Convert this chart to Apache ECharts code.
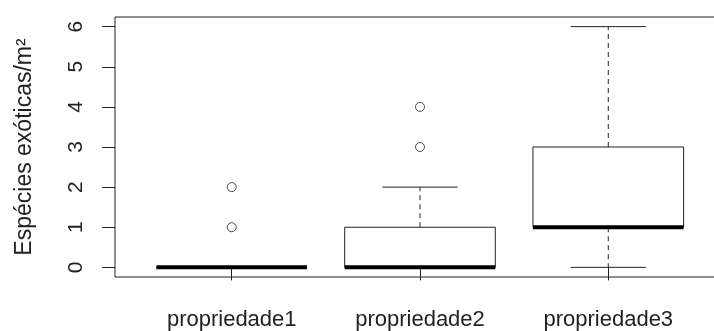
<!DOCTYPE html>
<html>
<head>
<meta charset="utf-8">
<script src="https://cdn.jsdelivr.net/npm/echarts@6/dist/echarts.min.js"></script>
<style>html,body{margin:0;padding:0;background:#fff;overflow:hidden}#c{width:714px;height:331px}</style>
</head>
<body>
<div id="c"></div>
<script>
const categories = ['propriedade1', 'propriedade2', 'propriedade3'];
const boxMin = [0, 0, 0];
const boxQ1 = [0, 0, 1];
const boxMedian = [0, 0, 1];
const boxQ3 = [0, 1, 3];
const boxMax = [0, 2, 6];
const outlierCategory = [1, 1, 2, 2];
const outlierValue = [1, 2, 3, 4];
const yTicks = [0, 1, 2, 3, 4, 5, 6];
const xTicks = [1, 2, 3];

const boxData = categories.map((c, i) => [i + 1, boxMin[i], boxQ1[i], boxMedian[i], boxQ3[i], boxMax[i]]);
const outlierData = outlierCategory.map((c, i) => [c, outlierValue[i]]);

const FONT = '"Liberation Sans", Arial, sans-serif';
const INK = '#222222';

const chart = echarts.init(document.getElementById('c'), null, {renderer: 'canvas'});

function renderBox(params, api) {
  const x = api.value(0);
  const mn = api.value(1), q1 = api.value(2), md = api.value(3), q3 = api.value(4), mx = api.value(5);
  const half = api.size([0.8, 0])[0] / 2;
  const stapleHalf = half / 2;
  const pMin = api.coord([x, mn]);
  const pQ1 = api.coord([x, q1]);
  const pMd = api.coord([x, md]);
  const pQ3 = api.coord([x, q3]);
  const pMax = api.coord([x, mx]);
  const cx = pMd[0];
  const lineStyle = {stroke: INK, lineWidth: 1, fill: null};
  const dashStyle = {stroke: INK, lineWidth: 1, lineDash: [5, 4], fill: null};
  return {
    type: 'group',
    children: [
      {type: 'line', shape: {x1: cx, y1: pQ3[1], x2: cx, y2: pMax[1]}, style: dashStyle},
      {type: 'line', shape: {x1: cx, y1: pQ1[1], x2: cx, y2: pMin[1]}, style: dashStyle},
      {type: 'line', shape: {x1: cx - stapleHalf, y1: pMax[1], x2: cx + stapleHalf, y2: pMax[1]}, style: lineStyle},
      {type: 'line', shape: {x1: cx - stapleHalf, y1: pMin[1], x2: cx + stapleHalf, y2: pMin[1]}, style: lineStyle},
      {type: 'rect', shape: {x: cx - half, y: pQ3[1], width: 2 * half, height: pQ1[1] - pQ3[1]},
        style: {stroke: INK, lineWidth: 1, fill: '#fff'}},
      {type: 'line', shape: {x1: cx - half, y1: pMd[1], x2: cx + half, y2: pMd[1]},
        style: {stroke: '#000', lineWidth: 4, lineCap: 'butt'}}
    ]
  };
}

chart.setOption({
  animation: false,
  backgroundColor: '#fff',
  grid: {left: 115, width: 610, top: 17, bottom: 54, outerBoundsMode: 'none', containLabel: false,
    show: true, borderColor: INK, borderWidth: 1, backgroundColor: 'transparent'},
  xAxis: {
    type: 'value', min: 0.38, max: 3.62,
    splitLine: {show: false},
    axisLine: {show: false},
    axisTick: {show: true, customValues: xTicks, length: 13, lineStyle: {color: INK, width: 1}},
    axisLabel: {show: true, customValues: xTicks, margin: 32, color: INK, fontFamily: FONT, fontSize: 22,
      formatter: v => categories[Math.round(v) - 1]}
  },
  yAxis: {
    type: 'value', min: -0.24, max: 6.24,
    name: 'Espécies exóticas/m²', nameLocation: 'middle', nameRotate: 90, nameGap: 79,
    nameTextStyle: {color: INK, fontFamily: FONT, fontSize: 23},
    splitLine: {show: false},
    axisLine: {show: false},
    axisTick: {show: true, customValues: yTicks, length: 13, lineStyle: {color: INK, width: 1}},
    axisLabel: {show: true, customValues: yTicks, rotate: 90, margin: 28, color: INK, fontFamily: FONT, fontSize: 21}
  },
  series: [
    {type: 'custom', renderItem: renderBox, data: boxData, encode: {x: 0, y: [1, 2, 3, 4, 5]}, clip: false},
    {type: 'scatter', data: outlierData, symbol: 'circle', symbolSize: 9,
      itemStyle: {color: '#fff', borderColor: INK, borderWidth: 1}}
  ]
});
</script>
</body>
</html>
